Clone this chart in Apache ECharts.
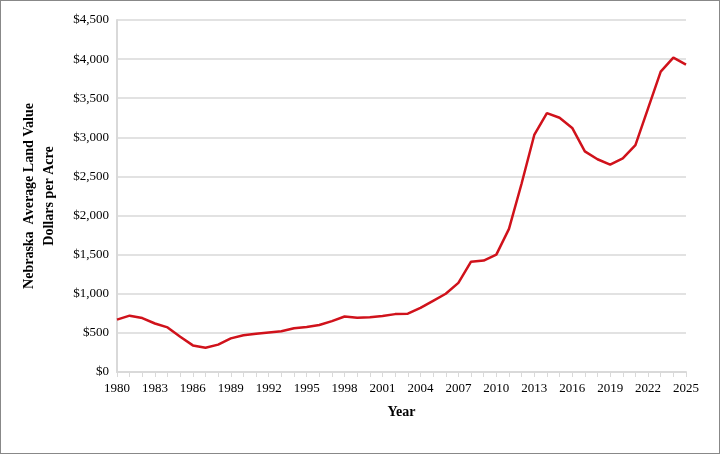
<!DOCTYPE html>
<html><head><meta charset="utf-8">
<script src="https://cdn.jsdelivr.net/npm/echarts@6/dist/echarts.min.js"></script>
<style>html,body{margin:0;padding:0;background:#fff}#c{width:718px;height:452px;border:1px solid #888;}</style>
</head><body><div id="c"></div>
<script>
const years = [];
for (let y = 1980; y <= 2025; y++) years.push(String(y));
const values = [670,720,690,620,570,450,340,310,350,430,470,490,505,520,560,575,600,650,710,695,700,715,740,745,820,910,1000,1140,1410,1425,1500,1830,2410,3030,3310,3250,3120,2820,2720,2650,2730,2900,3370,3840,4020,3930];
const f = 'Liberation Serif';
const chart = echarts.init(document.getElementById('c'));
chart.setOption({
  animation:false,
  textStyle:{fontFamily:f},
  grid:{left:116,right:33,top:19,bottom:81},
  xAxis:{type:'category',data:years,boundaryGap:false,
    name:'Year',nameLocation:'middle',nameGap:33,
    nameTextStyle:{fontFamily:f,fontWeight:'bold',fontSize:14,color:'#000'},
    axisLine:{lineStyle:{color:'#d9d9d9',width:2}},
    axisTick:{show:true,interval:0,lineStyle:{color:'#d9d9d9'}},
    axisLabel:{interval:2,color:'#000',fontFamily:f,fontSize:13,margin:10}},
  yAxis:{type:'value',min:0,max:4500,interval:500,
    name:'Nebraska  Average Land Value\nDollars per Acre',nameLocation:'middle',nameGap:58,
    nameTextStyle:{fontFamily:f,fontWeight:'bold',fontSize:14,color:'#000',lineHeight:20},
    axisLine:{show:true,lineStyle:{color:'#d9d9d9',width:2}},
    splitLine:{lineStyle:{color:'#d9d9d9',width:1.5}},
    axisLabel:{color:'#000',fontFamily:f,fontSize:13,
      formatter:v=>'$'+v.toLocaleString('en-US')}},
  series:[{type:'line',data:values,showSymbol:false,
    lineStyle:{color:'#d0121b',width:2.5},itemStyle:{color:'#d0121b'}}]
});
</script></body></html>
